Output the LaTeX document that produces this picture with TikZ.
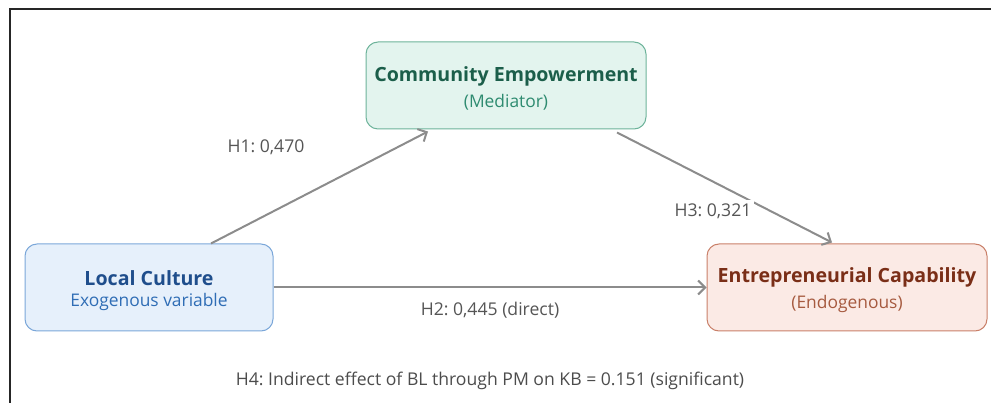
\documentclass[tikz,border=0pt]{standalone}
\usepackage{fontspec}
\setmainfont{Open Sans}
\usetikzlibrary{arrows.meta, calc, positioning}
\frenchspacing

\definecolor{cegreen}{HTML}{E3F4EE}
\definecolor{ceborder}{HTML}{6DB39A}
\definecolor{cetitle}{HTML}{1B5E4A}
\definecolor{cesub}{HTML}{2E8B70}
\definecolor{lcblue}{HTML}{E6F0FB}
\definecolor{lcborder}{HTML}{7BA7D9}
\definecolor{lctitle}{HTML}{1F4E8C}
\definecolor{lcsub}{HTML}{2F6DB5}
\definecolor{ecred}{HTML}{FBEAE5}
\definecolor{ecborder}{HTML}{C98069}
\definecolor{ectitle}{HTML}{7A2E17}
\definecolor{ecsub}{HTML}{A65A3F}
\definecolor{arrowgray}{HTML}{8C8C8C}
\definecolor{labelgray}{HTML}{555555}

\newcommand{\titlefont}{\fontsize{19.6}{23}\selectfont\bfseries\rule{0pt}{21pt}}
\newcommand{\subfont}{\fontsize{17.4}{20}\selectfont}

\begin{document}
\begin{tikzpicture}[x=1pt, y=-1pt,
    box/.style={rounded corners=12pt, draw, line width=1pt, align=center,
      minimum height=87pt, inner sep=0pt},
    link/.style={draw=arrowgray, line width=2pt,
      -{Straight Barb[length=7pt,width=14pt,line width=2pt]}},
    lbl/.style={text=labelgray, font=\fontsize{17.6}{20}\selectfont}
  ]
    \useasboundingbox (0,0) rectangle (991,403);
    % frame
    \draw[line width=2pt, black!85] (9.5,403) -- (9.5,9.5) -- (991,9.5);

    % constructs
    \node[box, fill=cegreen, draw=ceborder, minimum width=280pt] (ce) at (506,85.5)
      {\textcolor{cetitle}{\titlefont Community Empowerment}\\[7pt]
       \textcolor{cesub}{\subfont (Mediator)}};
    \node[box, fill=lcblue, draw=lcborder, minimum width=248pt] (lc) at (149,287.5)
      {\textcolor{lctitle}{\titlefont Local Culture}\\[7pt]
       \textcolor{lcsub}{\subfont Exogenous variable}};
    \node[box, fill=ecred, draw=ecborder, minimum width=280pt] (ec) at (847,287.5)
      {\textcolor{ectitle}{\titlefont Entrepreneurial Capability}\\[7pt]
       \textcolor{ecsub}{\subfont (Endogenous)}};

    % paths
    \draw[link] ([xshift=62pt]lc.north) -- ([xshift=-78pt,yshift=-2pt]ce.south);
    \draw[link] ([xshift=111pt,yshift=-3pt]ce.south) -- ([xshift=-15pt,yshift=1pt]ec.north);
    \draw[link] (lc.east) -- (ec.west);

    % labels
    \node[lbl] (h1) at (266,147) {H1: 0,470};
    \node[lbl, fill=white, inner sep=3pt] (h3) at (713,211) {H3: 0,321};
    \node[lbl] (h2) at (490,310) {H2: 0,445 (direct)};
    \node[lbl, text=black!70] (h4) at (490,381)
      {H4: Indirect effect of BL through PM on KB = 0.151 (significant)};
  \end{tikzpicture}
\end{document}
